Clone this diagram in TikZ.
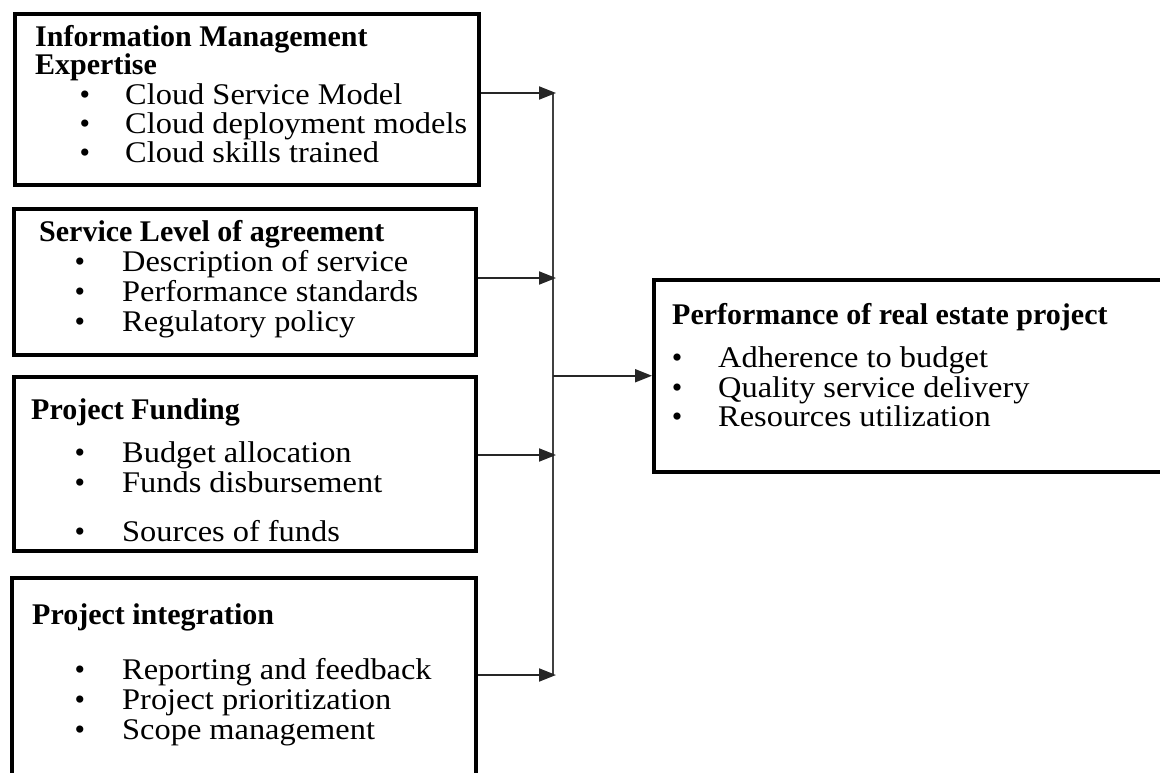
\documentclass[tikz,border=0pt]{standalone}
\usepackage{fontspec}
\setmainfont{Liberation Serif}
\newfontfamily\wideserif[FakeStretch=1.08]{Liberation Serif}
\usetikzlibrary{arrows.meta}

\tikzset{
  box/.style={draw, line width=3.5pt, anchor=north west, inner sep=0pt},
  head/.style={anchor=base west, inner sep=0pt, font=\fontsize{30}{30}\selectfont\bfseries},
  item/.style={anchor=base west, inner sep=0pt, font=\wideserif\fontsize{30}{30}\selectfont},
  dot/.style={anchor=base, inner sep=0pt, font=\fontsize{30}{30}\selectfont},
  trunk/.style={line width=2pt, draw=black!75},
  link/.style={line width=2pt, draw=black!85, -{Triangle[length=17pt,width=13pt]}}
}

\begin{document}
\begin{tikzpicture}[x=1pt,y=-1pt]
  \useasboundingbox (0,0) rectangle (1160,772);
  \clip (0,0) rectangle (1160,772);

  % the four factor boxes and the outcome box
  \node[box, minimum width=464pt, minimum height=171pt] (b1) at (13,12) {};
  \node[box, minimum width=462pt, minimum height=146pt] (b2) at (12,207) {};
  \node[box, minimum width=462pt, minimum height=174pt] (b3) at (12,375) {};
  \node[box, minimum width=464pt, minimum height=224pt] (b4) at (10,576) {};
  \node[box, minimum width=528pt, minimum height=192pt] (rb) at (652,278) {};

  % headings
  \node[head] (h1a) at (35,46) {Information Management};
  \node[head] (h1b) at (35,74) {Expertise};
  \node[head] (h2) at (39,241) {Service Level of agreement};
  \node[head] (h3) at (31,419) {Project Funding};
  \node[head] (h4) at (32,624) {Project integration};
  \node[head] (hr) at (672,324) {Performance of real estate project};

  % bullet lists
  \foreach \t/\y [count=\i] in {Cloud Service Model/104, Cloud deployment models/133, Cloud skills trained/162}{
    \node[dot] (d1\i) at (85,\y) {\textbullet};
    \node[item] (t1\i) at (125,\y) {\t};
  }
  \foreach \t/\y [count=\i] in {Description of service/271, Performance standards/301, Regulatory policy/331}{
    \node[dot] (d2\i) at (80,\y) {\textbullet};
    \node[item] (t2\i) at (122,\y) {\t};
  }
  \foreach \t/\y [count=\i] in {Budget allocation/462, Funds disbursement/492, Sources of funds/541}{
    \node[dot] (d3\i) at (80,\y) {\textbullet};
    \node[item] (t3\i) at (122,\y) {\t};
  }
  \foreach \t/\y [count=\i] in {Reporting and feedback/679, Project prioritization/709, Scope management/739}{
    \node[dot] (d4\i) at (80,\y) {\textbullet};
    \node[item] (t4\i) at (122,\y) {\t};
  }
  \foreach \t/\y [count=\i] in {Adherence to budget/367, Quality service delivery/397, Resources utilization/426}{
    \node[dot] (dr\i) at (677,\y) {\textbullet};
    \node[item] (tr\i) at (718,\y) {\t};
  }

  % connectors
  \coordinate (j1) at (553,93);
  \coordinate (j2) at (553,278);
  \coordinate (j3) at (553,455);
  \coordinate (j4) at (553,675);
  \draw[trunk] (j1) -- (j4);
  \foreach \b/\j in {b1/j1, b2/j2, b3/j3, b4/j4}
    \draw[link] (\b.east |- \j) -- ([xshift=3pt]\j);
  \draw[link] (rb.west -| j2) -- (rb.west);
\end{tikzpicture}
\end{document}
